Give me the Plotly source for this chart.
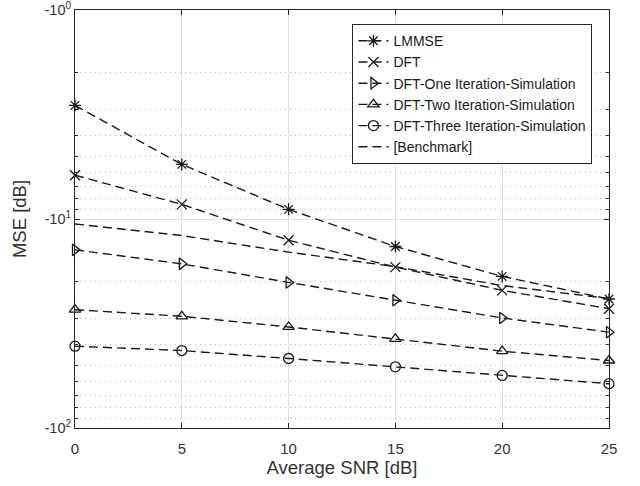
import plotly.graph_objects as go

# Average SNR [dB]
snr = [0, 5, 10, 15, 20, 25]

# MSE [dB] per estimator (negative values, shown on a negative log axis)
mse_lmmse = [-2.86, -5.48, -8.99, -13.54, -18.82, -24.15]
mse_dft = [-6.17, -8.51, -12.64, -16.99, -21.95, -26.86]
mse_dft_one = [-14.05, -16.39, -20.11, -24.49, -29.76, -34.8]
mse_dft_two = [-27.16, -29.21, -32.85, -37.47, -42.9, -47.55]
mse_dft_three = [-40.6, -42.6, -46.5, -50.96, -56.07, -61.4]
mse_benchmark = [-10.56, -12.0, -14.41, -16.9, -20.83, -24.02]

# y tick positions (magnitudes) and their labels
y_tick_vals = [1, 10, 100]
y_tick_text = ["-10<sup>0</sup>", "-10<sup>1</sup>", "-10<sup>2</sup>"]
y_minor_vals = [m * d for d in (1, 10) for m in range(2, 10)]
x_tick_vals = [0, 5, 10, 15, 20, 25]

series = [
    ("LMMSE", mse_lmmse, "asterisk-open"),
    ("DFT", mse_dft, "x-thin-open"),
    ("DFT-One Iteration-Simulation", mse_dft_one, "triangle-right-open"),
    ("DFT-Two Iteration-Simulation", mse_dft_two, "triangle-up-open"),
    ("DFT-Three Iteration-Simulation", mse_dft_three, "circle-open"),
]

LINE = "#1a1a1a"
DASH = "9px,5px"
TXT = "#333333"
AX = "#262626"

fig = go.Figure()
for name, vals, sym in series:
    fig.add_trace(go.Scatter(
        x=snr, y=[-v for v in vals], name=name, mode="lines+markers",
        line=dict(color=LINE, width=1.4, dash=DASH),
        marker=dict(symbol=sym, size=10, color=LINE, line=dict(color=LINE, width=1.3)),
        cliponaxis=False,
    ))

fig.add_trace(go.Scatter(
    x=snr, y=[-v for v in mse_benchmark], name="[Benchmark]", mode="lines",
    line=dict(color=LINE, width=1.4, dash=DASH),
))

fig.update_layout(
    width=640, height=486,
    margin=dict(l=75, r=31, t=10, b=58),
    paper_bgcolor="white", plot_bgcolor="white",
    font=dict(family="Liberation Sans, Arial, sans-serif", size=14, color=TXT),
    showlegend=True,
    legend=dict(
        x=0.969, y=0.966, xanchor="right", yanchor="top",
        bgcolor="white", bordercolor=AX, borderwidth=1,
        font=dict(size=14, color="#1a1a1a"),
        tracegroupgap=0, itemwidth=30,
    ),
    xaxis=dict(
        range=[0, 25], tickvals=x_tick_vals, automargin=False,
        showgrid=True, gridcolor="#e0e0e0", gridwidth=1,
        showline=True, linecolor=AX, linewidth=1, mirror="ticks",
        ticks="inside", ticklen=5, tickcolor=AX,
        zeroline=False, ticklabelstandoff=7,
        title=dict(text="Average SNR [dB]", standoff=4, font=dict(size=18.5, color=TXT)),
        tickfont=dict(size=15, color=TXT),
    ),
    yaxis=dict(
        type="log", range=[2.0001, -0.0001], automargin=False,
        tickvals=y_tick_vals, ticktext=y_tick_text,
        ticklabeloverflow="allow",
        showgrid=True, gridcolor="#e0e0e0", gridwidth=1,
        minor=dict(tickmode="array", tickvals=y_minor_vals,
                   showgrid=True, gridcolor="#b4b4b4", griddash="1px,4px",
                   ticks="inside", ticklen=3, tickcolor=AX),
        showline=True, linecolor=AX, linewidth=1, mirror="ticks",
        ticks="inside", ticklen=5, tickcolor=AX,
        zeroline=False,
        title=dict(text="MSE [dB]", standoff=13, font=dict(size=18.5, color=TXT)),
        tickfont=dict(size=14.5, color=TXT),
    ),
)

fig.write_html("out.html")
